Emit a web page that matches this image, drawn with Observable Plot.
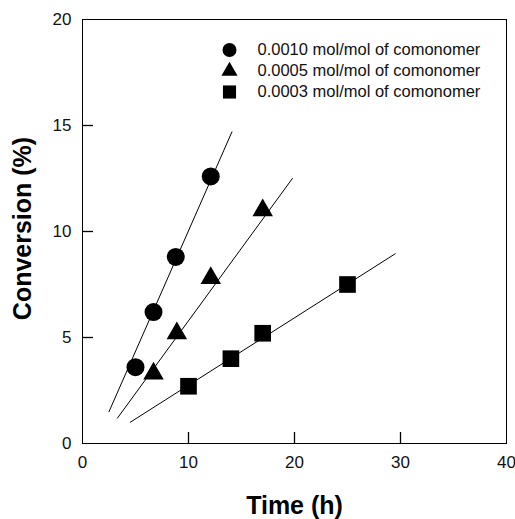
<!DOCTYPE html>
<html><head><meta charset="utf-8">
<script src="https://cdn.jsdelivr.net/npm/d3@7"></script>
<script src="https://cdn.jsdelivr.net/npm/@observablehq/plot@0.6"></script>
<style>body{margin:0;background:#fff} #chart{width:515px;height:519px}</style>
</head><body><div id="chart"></div>
<script>
const seriesLabels = ["0.0010 mol/mol of comonomer", "0.0005 mol/mol of comonomer", "0.0003 mol/mol of comonomer"];
const time0010 = [5.0, 6.7, 8.8, 12.1];
const conv0010 = [3.6, 6.2, 8.8, 12.6];
const time0005 = [6.7, 8.9, 12.1, 17.0];
const conv0005 = [3.3, 5.2, 7.8, 11.0];
const time0003 = [10.0, 14.0, 17.0, 25.0];
const conv0003 = [2.7, 4.0, 5.2, 7.5];
const fitTime0010 = [2.5, 14.1];
const fitConv0010 = [1.5, 14.7];
const fitTime0005 = [3.3, 19.8];
const fitConv0005 = [1.2, 12.5];
const fitTime0003 = [4.5, 29.5];
const fitConv0003 = [1.0, 8.95];
const xTicks = [0, 10, 20, 30, 40];
const yTicks = [0, 5, 10, 15, 20];
const xLabel = "Time (h)";
const yLabel = "Conversion (%)";

const seriesTimes = [time0010, time0005, time0003];
const seriesConvs = [conv0010, conv0005, conv0003];
const fitTimes = [fitTime0010, fitTime0005, fitTime0003];
const fitConvs = [fitConv0010, fitConv0005, fitConv0003];

const points = seriesLabels.flatMap((s, i) => seriesTimes[i].map((t, j) => ({series: s, time: t, conv: seriesConvs[i][j]})));
const fits = seriesLabels.flatMap((s, i) => fitTimes[i].map((t, j) => ({series: s, time: t, conv: fitConvs[i][j]})));

const symbols = ["circle", "triangle", "square"];
const pointR = [9, 7.6, 9.4];
const legendR = [7, 6, 7.4];
const legendDy = [30.5, 51.5, 72.5];
const W = 515, H = 519, mL = 82, mR = 9, mT = 19, mB = 76;
const tickLen = 11;
const xDomain = [xTicks[0], xTicks[xTicks.length - 1]];
const yDomain = [yTicks[0], yTicks[yTicks.length - 1]];
// inward tick length expressed in data units of the other axis
const tickLenY = tickLen * (yDomain[1] - yDomain[0]) / (H - mT - mB);
const tickLenX = tickLen * (xDomain[1] - xDomain[0]) / (W - mL - mR);

const marks = [
  Plot.frame({stroke: "black", strokeWidth: 1}),
  Plot.axisX(xTicks, {tickSize: 0, tickPadding: 12, fontSize: 17, label: null, fill: "#111"}),
  Plot.axisY(yTicks, {tickSize: 0, tickPadding: 11, fontSize: 17, label: null, fill: "#111"}),
  Plot.ruleX(xTicks.slice(1, -1), {x: d => d, y1: yDomain[0], y2: yDomain[0] + tickLenY, stroke: "black", strokeWidth: 1.3}),
  Plot.ruleY(yTicks.slice(1, -1), {y: d => d, x1: xDomain[0], x2: xDomain[0] + tickLenX, stroke: "black", strokeWidth: 1.3}),
  Plot.line(fits, {x: "time", y: "conv", z: "series", stroke: "black", strokeWidth: 1}),
  ...seriesLabels.map((s, i) => Plot.dot(points.filter(d => d.series === s), {
    x: "time", y: "conv", symbol: symbols[i], r: pointR[i], fill: "black", stroke: "none"
  })),
  ...seriesLabels.flatMap((s, i) => [
    Plot.dot([s], {frameAnchor: "top-left", dx: 147, dy: legendDy[i], symbol: symbols[i], r: legendR[i], fill: "black", stroke: "none"}),
    Plot.text([s], {frameAnchor: "top-left", dx: 175, dy: legendDy[i], text: d => d, textAnchor: "start", lineAnchor: "middle", fontSize: 16.5, fill: "#111"})
  ]),
  Plot.text([xLabel], {frameAnchor: "bottom", dy: 62, text: d => d, textAnchor: "middle", lineAnchor: "middle", fontSize: 25, fontWeight: "bold", fill: "black"}),
  Plot.text([yLabel], {frameAnchor: "left", dx: -60, dy: -3, rotate: -90, text: d => d, textAnchor: "middle", lineAnchor: "middle", fontSize: 25, fontWeight: "bold", fill: "black"})
];

const chart = Plot.plot({
  width: W,
  height: H,
  marginLeft: mL,
  marginRight: mR,
  marginTop: mT,
  marginBottom: mB,
  x: {domain: xDomain, axis: null},
  y: {domain: yDomain, axis: null},
  style: {fontFamily: "'Liberation Sans', Arial, sans-serif", background: "white", color: "black"},
  marks
});
document.getElementById("chart").appendChild(chart);
</script>
</body></html>
